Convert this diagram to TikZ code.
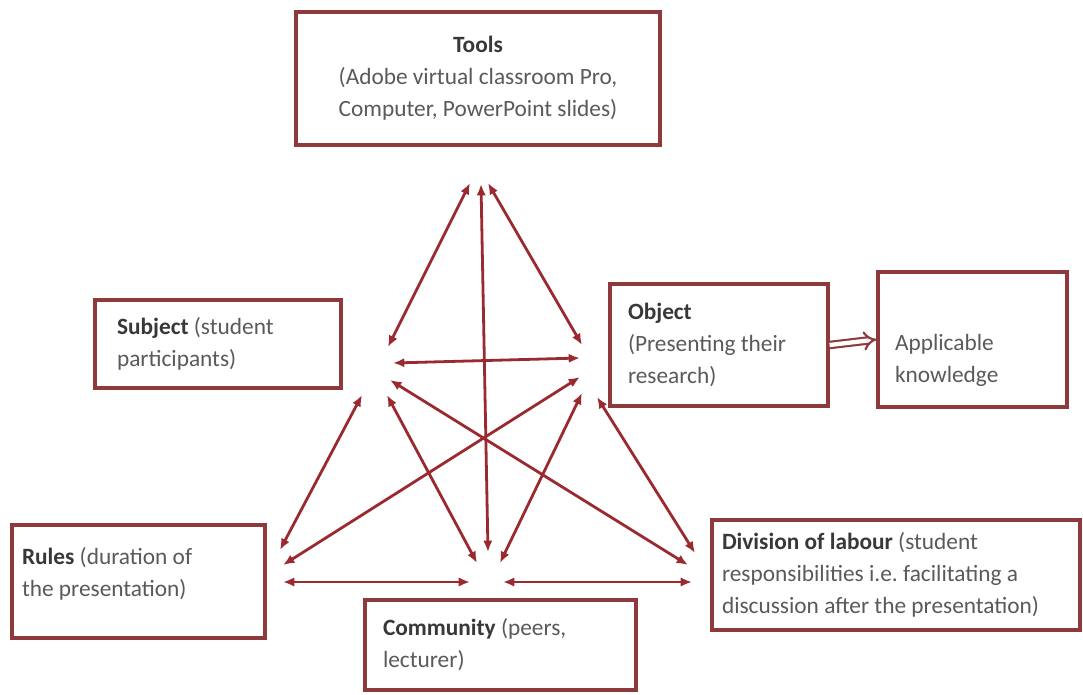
\documentclass[tikz,border=0pt]{standalone}
\usepackage{fontspec}
\setmainfont{Carlito}
\usetikzlibrary{arrows.meta}
\definecolor{boxred}{HTML}{8E3A3C}
\definecolor{arrred}{HTML}{9A2A30}
\definecolor{txtgray}{HTML}{5A5A5A}
\begin{document}
\frenchspacing
\begin{tikzpicture}[x=0.75pt,y=-0.75pt,
  box/.style={draw=boxred, line width=2.4pt, fill=white, inner ysep=0pt,
    font=\fontsize{17.5}{24}\selectfont\frenchspacing, text=txtgray},
  lbox/.style={box, align=flush left},
  link/.style={arrred, line width=2.1pt, {Latex[length=8.5pt,width=7pt]}-{Latex[length=8.5pt,width=7pt]}},
  impl/.style={boxred, line width=1.6pt, double distance=3.2pt, -{Implies}}
]
\useasboundingbox (0,0) rectangle (1083,694);
\newcommand{\ttlb}[1]{\textbf{\color{black!78}#1}}

\node[box, align=center, minimum width=273pt, minimum height=99.75pt] (tools) at (478,78.5)
  {\ttlb{Tools}\\(Adobe virtual classroom Pro,\\Computer, PowerPoint slides)};
\node[lbox, minimum width=184.5pt, minimum height=66pt, inner xsep=16.5pt, text width=151.5pt] (subject) at (218,344)
  {\ttlb{Subject} (student\\participants)};
\node[lbox, minimum width=163.5pt, minimum height=91.5pt, inner xsep=13.5pt, text width=136.5pt] (object) at (719,345)
  {\ttlb{Object}\\(Presenting their\\research)};
\node[lbox, minimum width=141.75pt, minimum height=101.25pt, inner xsep=12.75pt, text width=116.25pt] (know) at (972.5,339.5)
  {\mbox{}\\[20pt]Applicable\\knowledge};
\node[lbox, minimum width=189.75pt, minimum height=84.75pt, inner xsep=7.5pt, text width=174.75pt] (rules) at (138.5,581.5)
  {\ttlb{Rules} (duration of\\the presentation)\\[-10pt]\mbox{}};
\node[lbox, minimum width=203.25pt, minimum height=67.5pt, inner xsep=13.5pt, text width=176.25pt] (community) at (500.5,645)
  {\ttlb{Community} (peers,\\lecturer)};
\node[lbox, minimum width=276pt, minimum height=82.5pt, inner xsep=7.5pt, text width=261pt] (division) at (896,575)
  {\ttlb{Division of labour} (student\\responsibilities i.e. facilitating a\\discussion after the presentation)};

% connector end points
\coordinate (t1) at (470,183);  \coordinate (s1) at (388,347);
\coordinate (t2) at (488,183);  \coordinate (o1) at (582,345);
\coordinate (t3) at (481,184);  \coordinate (c1) at (488,552);
\coordinate (s2) at (393,363);  \coordinate (o2) at (580,358);
\coordinate (s3) at (390,380);  \coordinate (d1) at (688,565);
\coordinate (o3) at (580,377);  \coordinate (r1) at (283,565);
\coordinate (s4) at (387,395);  \coordinate (c2) at (477,563);
\coordinate (s5) at (362,395);  \coordinate (r2) at (280,550);
\coordinate (o4) at (582,393);  \coordinate (c3) at (500,563);
\coordinate (o5) at (597,397);  \coordinate (d2) at (695,553);
\coordinate (r3) at (283,582);  \coordinate (c4) at (470,582);
\coordinate (c5) at (503,582);  \coordinate (d3) at (692,582);

\draw[link] (t1) -- (s1);
\draw[link] (t2) -- (o1);
\draw[link] (t3) -- (c1);
\draw[link] (s2) -- (o2);
\draw[link] (s3) -- (d1);
\draw[link] (o3) -- (r1);
\draw[link] (s4) -- (c2);
\draw[link] (s5) -- (r2);
\draw[link] (o4) -- (c3);
\draw[link] (o5) -- (d2);
\draw[link] (r3) -- (c4);
\draw[link] (c5) -- (d3);

\draw[impl] (object.east) -- (know.west);
\end{tikzpicture}
\end{document}
